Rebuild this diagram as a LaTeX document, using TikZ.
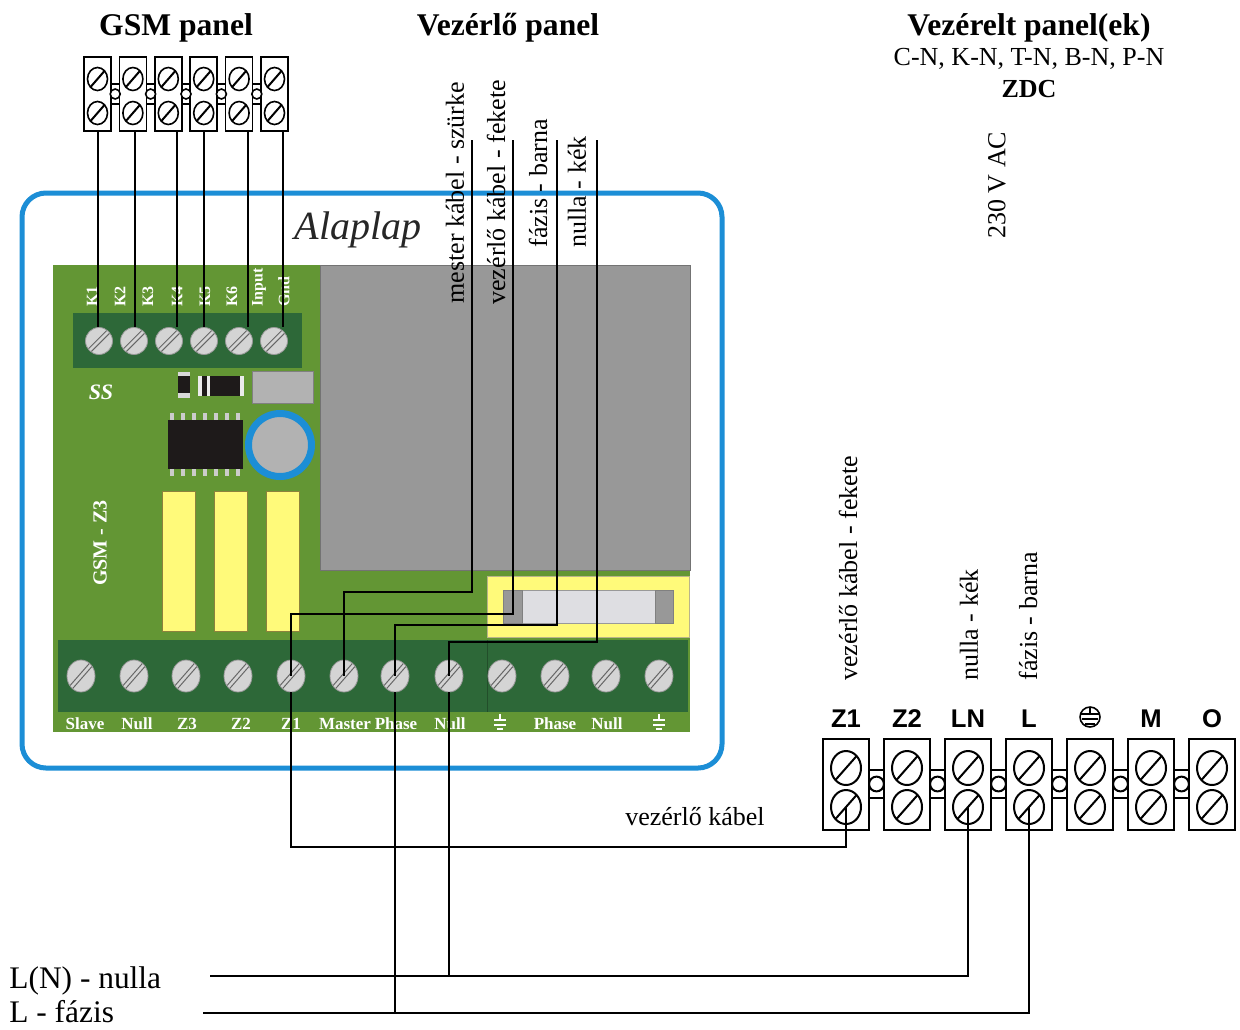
\documentclass[tikz,border=0pt]{standalone}
\usepackage{fontspec}
\setmainfont{Liberation Serif}
\setsansfont{Liberation Sans}
\usetikzlibrary{shapes.geometric, positioning, calc}

\definecolor{boardblue}{RGB}{28,142,214}
\definecolor{pcbgreen}{RGB}{99,150,52}
\definecolor{termgreen}{RGB}{45,104,56}
\definecolor{relaygray}{RGB}{152,152,152}
\definecolor{screwgray}{RGB}{212,212,212}
\definecolor{padyellow}{RGB}{255,250,122}
\definecolor{padedge}{RGB}{140,130,60}
\definecolor{fuseglass}{RGB}{222,222,226}
\definecolor{chipblack}{RGB}{30,26,26}

\tikzset{
  wire/.style={line width=1pt},
  title/.style={font=\bfseries\fontsize{15.8}{18}\selectfont, anchor=base},
  txt/.style={font=\fontsize{13}{15}\selectfont},
  vlabel/.style={txt, rotate=90, anchor=west, inner sep=0pt},
  pcbtext/.style={text=white, font=\bfseries\fontsize{8.5}{10}\selectfont, inner sep=0pt},
  termlabel/.style={font=\sffamily\bfseries\fontsize{12.8}{15}\selectfont, anchor=base},
  slash/.style={path picture={\draw[line width=1pt] (path picture bounding box.south west) -- (path picture bounding box.north east);}},
  dslash/.style={path picture={
    \draw[black!60, line width=0.5pt] ([xshift=-0.7pt,yshift=0.7pt]path picture bounding box.south west) -- ([xshift=-0.7pt,yshift=0.7pt]path picture bounding box.north east);
    \draw[black!60, line width=0.5pt] ([xshift=0.7pt,yshift=-0.7pt]path picture bounding box.south west) -- ([xshift=0.7pt,yshift=-0.7pt]path picture bounding box.north east);}},
  bscrew/.style={ellipse, draw=black!40, fill=screwgray, minimum width=14pt, minimum height=16pt, inner sep=0pt, dslash},
  tscrew/.style={circle, draw=black!40, fill=screwgray, minimum size=13.5pt, inner sep=0pt, dslash},
  gblock/.style={rectangle, draw, line width=0.8pt, fill=white, minimum width=13.5pt, minimum height=37pt, inner sep=0pt},
  gscrew/.style={ellipse, draw, line width=0.8pt, minimum width=10pt, minimum height=11.5pt, inner sep=0pt, slash},
  rblock/.style={rectangle, draw, line width=1pt, fill=white, minimum width=23pt, minimum height=45.5pt, inner sep=0pt},
  rscrew/.style={ellipse, draw, line width=1pt, minimum width=15pt, minimum height=17pt, inner sep=0pt, slash}
}

\begin{document}
\begin{tikzpicture}[x=0.5pt,y=-0.5pt]

\useasboundingbox (0,0) rectangle (1240,1029);
\fill[white] (0,0) rectangle (1240,1029);

% headings
\node[title] (gsmtitle) at (176,35) {GSM panel};
\node[title] (ctrltitle) at (508,35) {Vezérlő panel};
\node[title] (outtitle) at (1029,35) {Vezérelt panel(ek)};
\node[txt, anchor=base] (types) at (1029,65) {C-N, K-N, T-N, B-N, P-N};
\node[txt, anchor=base, font=\bfseries\fontsize{13}{15}\selectfont] (zdc) at (1029,97) {ZDC};
\node[vlabel] (ac) at (997,239) {230 V AC};

% GSM panel terminal block
\foreach \i [evaluate=\i as \gx using 84+35.4*(\i-1)] in {1,...,5}
  \draw[line width=0.8pt, fill=white] (\gx+27,84) rectangle (\gx+35.4,104);
\foreach \i [evaluate=\i as \gx using 84+35.4*(\i-1)] in {1,...,6} {
  \node[gblock] (g\i) at (\gx+13.5,94) {};
  \node[gscrew] (gt\i) at (\gx+13.5,79) {};
  \node[gscrew] (gb\i) at (\gx+13.5,113) {};
}
\foreach \i [evaluate=\i as \gx using 84+35.4*(\i-1)] in {1,...,5}
  \draw[line width=0.8pt, fill=white] (\gx+31.2,94) circle (2.5pt);

% Alaplap board
\draw[boardblue, line width=2.5pt, rounded corners=12pt, fill=white] (22,193) rectangle (722,768);
\node[font=\itshape\fontsize{20}{24}\selectfont, text=black!85] (alaplap) at (358,230) {Alaplap};
\fill[pcbgreen] (53,265) rectangle (690,732);
\draw[black!55, fill=relaygray] (320,265) rectangle (690,570);

% upper terminal
\fill[termgreen] (73,313) rectangle (302,368);
\foreach \i/\x in {1/99,2/134,3/169,4/204,5/239,6/274}
  \node[tscrew] (ts\i) at (\x,341) {};
\foreach \x/\t in {92/K1,120/K2,148/K3,177/K4,205/K5,232/K6,259/Input,284/Gnd}
  \node[pcbtext, rotate=90, anchor=west, font=\bfseries\fontsize{8}{9}\selectfont] at (\x,307) {\t};

% parts
\node[pcbtext, font=\bfseries\itshape\fontsize{11}{12}\selectfont] (logo) at (101,392) {SS};
\fill[black!15] (178,372) rectangle (190,398);
\fill[chipblack] (178,376) rectangle (190,393);
\fill[chipblack] (198,376) rectangle (243,396);
\fill[black!8] (198,376) rectangle (202,396);
\fill[black!8] (207,376) rectangle (210,396);
\fill[black!8] (240,376) rectangle (244,396);
\draw[black!50, fill=black!30] (252,371) rectangle (313,403);
\fill[chipblack] (168,420) rectangle (243,469);
\foreach \x in {170,181,...,236} {
  \fill[black!20] (\x,413) rectangle ++(4,7);
  \fill[black!20] (\x,469) rectangle ++(4,7);
}
\draw[boardblue, line width=3.5pt, fill=black!30] (280,445) circle (15.75pt);
\foreach \x in {162,214,266}
  \draw[padedge, fill=padyellow] (\x,491) rectangle ++(33,140);
\node[pcbtext, rotate=90, font=\bfseries\fontsize{10}{12}\selectfont] (model) at (100,543) {GSM - Z3};

% fuse
\draw[padedge!60, fill=padyellow] (487,576) rectangle (689,637);
\draw[black!40, fill=fuseglass] (503,590) rectangle (673,623);
\draw[black!50, fill=relaygray] (503,590) rectangle (522,623);
\draw[black!50, fill=relaygray] (655,590) rectangle (673,623);

% lower terminal
\fill[termgreen] (58,640) rectangle (688,712);
\draw[black!25!termgreen] (487,640) -- (487,712);
\foreach \i/\x in {1/81,2/134,3/186,4/238,5/291,6/344,7/395,8/449,9/502,10/555,11/606,12/659}
  \node[bscrew] (bs\i) at (\x,676) {};
\foreach \x/\t in {85/Slave,137/Null,187/Z3,241/Z2,291/Z1,345/Master,396/Phase,450/Null,555/Phase,607/Null}
  \node[pcbtext] at (\x,724) {\t};
\foreach \x in {500,659}
  \draw[white, line width=0.6pt] (\x,714) -- (\x,720) (\x-6,720) -- (\x+6,720) (\x-6,725) -- (\x+6,725) (\x-3,729) -- (\x+3,729);

% controlled panel terminal block
\foreach \i [evaluate=\i as \rx using 823+61*(\i-1)] in {1,...,6}
  \draw[line width=1pt, fill=white] (\rx+46,770) rectangle (\rx+61,798);
\foreach \i [evaluate=\i as \rx using 823+61*(\i-1)] in {1,...,7} {
  \node[rblock] (r\i) at (\rx+23,784.5) {};
  \node[rscrew] (rt\i) at (\rx+23,768) {};
  \node[rscrew] (rb\i) at (\rx+23,807) {};
}
\foreach \i [evaluate=\i as \rx using 823+61*(\i-1)] in {1,...,6}
  \draw[line width=1pt, fill=white] (\rx+53.5,784) circle (3.7pt);
\foreach \x/\t in {846/Z1,907/Z2,968/LN,1029/L,1151/M,1212/O}
  \node[termlabel] at (\x,727) {\t};
\draw[line width=0.8pt] (1090,717) circle (5pt);
\draw[line width=0.8pt] (1090,707) -- (1090,714) (1081,714) -- (1099,714) (1082,719) -- (1098,719) (1085,724) -- (1095,724);

% GSM wires
\coordinate (gw1) at (98,131);
\coordinate (gw2) at (135,131);
\coordinate (gw3) at (177,131);
\coordinate (gw4) at (204,131);
\coordinate (gw5) at (248,131);
\coordinate (gw6) at (283,131);
\foreach \i in {1,...,6}
  \draw[wire] (gw\i) -- (gw\i |- ts\i.north);

% control panel wires
\coordinate (cw1) at (472,140);
\coordinate (cw2) at (513,140);
\coordinate (cw3) at (557,140);
\coordinate (cw4) at (597,140);
\coordinate (cb1) at (472,592);
\coordinate (cb2) at (513,614);
\coordinate (cb3) at (557,625);
\coordinate (cb4) at (597,642);
\draw[wire] (cw1) -- (cb1) -| (bs6.center);
\draw[wire] (cw2) -- (cb2) -| (bs5.center);
\draw[wire] (cw3) -- (cb3) -| (bs7.center);
\draw[wire] (cw4) -- (cb4) -| (bs8.center);
\node[vlabel] (lmaster) at (455,304) {mester kábel - szürke};
\node[vlabel] (lctrl) at (496,305) {vezérlő kábel - fekete};
\node[vlabel] (lphase) at (538,248) {fázis - barna};
\node[vlabel] (lnull) at (577,248) {nulla - kék};

% mains and control cable
\coordinate (zloop) at (570,847);
\coordinate (nbus) at (210,976);
\coordinate (lbus) at (203,1013);
\draw[wire] (bs5.south) -- (bs5 |- zloop) -| (rb1.center);
\draw[wire] (nbus) -| (rb3.center);
\draw[wire] (lbus) -| (rb4.center);
\draw[wire] (bs8.south) -- (bs8 |- nbus);
\draw[wire] (bs7.south) -- (bs7 |- lbus);
\node[txt] (ctrlcable) at (695,817) {vezérlő kábel};
\node[vlabel] (rctrl) at (848,681) {vezérlő kábel - fekete};
\node[vlabel] (rnull) at (969,681) {nulla - kék};
\node[vlabel] (rphase) at (1028,681) {fázis - barna};
\node[font=\fontsize{15.7}{18}\selectfont, anchor=base west, inner sep=0pt] (nlabel) at (9,988) {L(N) - nulla};
\node[font=\fontsize{15.7}{18}\selectfont, anchor=base west, inner sep=0pt] (llabel) at (9,1022) {L - fázis};

\end{tikzpicture}
\end{document}
